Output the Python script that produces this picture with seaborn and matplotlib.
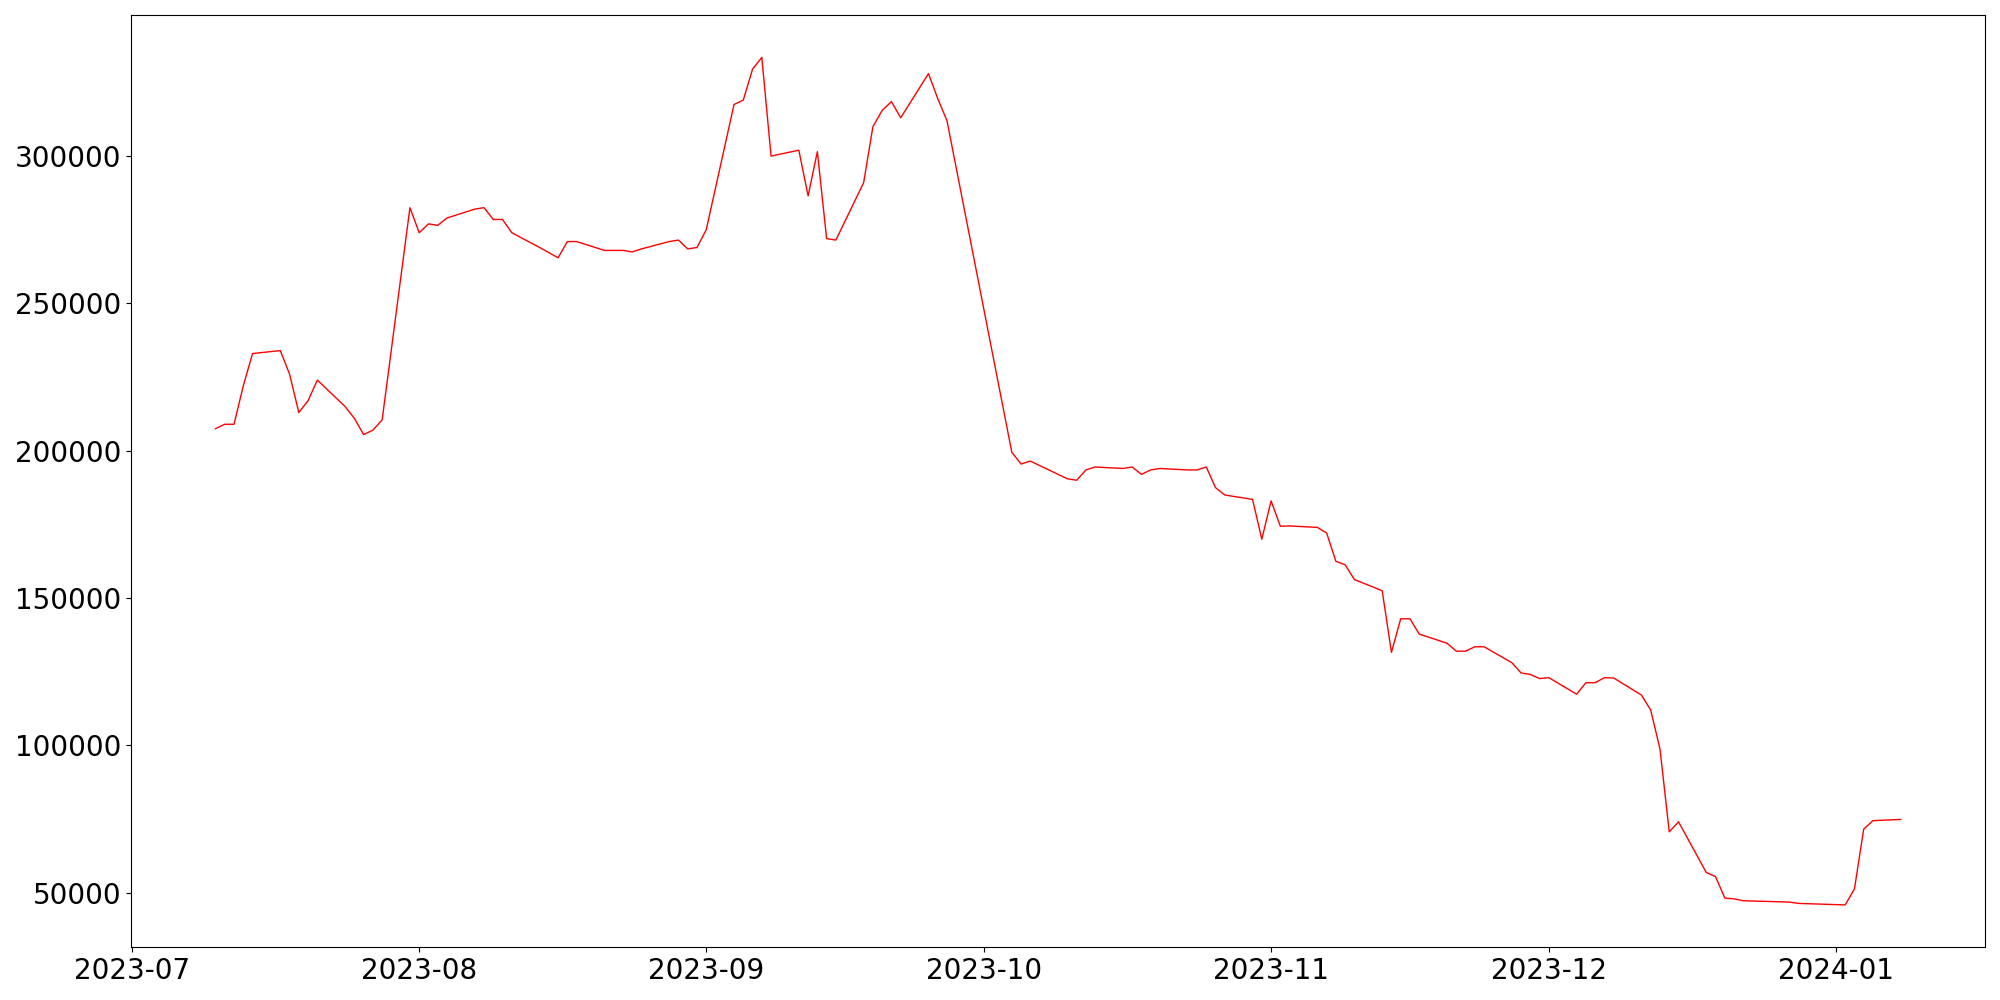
import pandas as pd
import seaborn as sns
import matplotlib.pyplot as plt

# trading days (KRX calendar) and closing prices
dates = [
    '2023-07-10', '2023-07-11', '2023-07-12', '2023-07-13', '2023-07-14',
    '2023-07-17', '2023-07-18', '2023-07-19', '2023-07-20', '2023-07-21',
    '2023-07-24', '2023-07-25', '2023-07-26', '2023-07-27', '2023-07-28',
    '2023-07-31', '2023-08-01', '2023-08-02', '2023-08-03', '2023-08-04',
    '2023-08-07', '2023-08-08', '2023-08-09', '2023-08-10', '2023-08-11',
    '2023-08-14', '2023-08-16', '2023-08-17', '2023-08-18',
    '2023-08-21', '2023-08-22', '2023-08-23', '2023-08-24', '2023-08-25',
    '2023-08-28', '2023-08-29', '2023-08-30', '2023-08-31', '2023-09-01',
    '2023-09-04', '2023-09-05', '2023-09-06', '2023-09-07', '2023-09-08',
    '2023-09-11', '2023-09-12', '2023-09-13', '2023-09-14', '2023-09-15',
    '2023-09-18', '2023-09-19', '2023-09-20', '2023-09-21', '2023-09-22',
    '2023-09-25', '2023-09-26', '2023-09-27',
    '2023-10-04', '2023-10-05', '2023-10-06',
    '2023-10-10', '2023-10-11', '2023-10-12', '2023-10-13',
    '2023-10-16', '2023-10-17', '2023-10-18', '2023-10-19', '2023-10-20',
    '2023-10-23', '2023-10-24', '2023-10-25', '2023-10-26', '2023-10-27',
    '2023-10-30', '2023-10-31', '2023-11-01', '2023-11-02', '2023-11-03',
    '2023-11-06', '2023-11-07', '2023-11-08', '2023-11-09', '2023-11-10',
    '2023-11-13', '2023-11-14', '2023-11-15', '2023-11-16', '2023-11-17',
    '2023-11-20', '2023-11-21', '2023-11-22', '2023-11-23', '2023-11-24',
    '2023-11-27', '2023-11-28', '2023-11-29', '2023-11-30', '2023-12-01',
    '2023-12-04', '2023-12-05', '2023-12-06', '2023-12-07', '2023-12-08',
    '2023-12-11', '2023-12-12', '2023-12-13', '2023-12-14', '2023-12-15',
    '2023-12-18', '2023-12-19', '2023-12-20', '2023-12-21', '2023-12-22',
    '2023-12-26', '2023-12-27', '2023-12-28',
    '2024-01-02', '2024-01-03', '2024-01-04', '2024-01-05', '2024-01-08',
]

prices = [
    207500, 209000, 209000, 222000, 233000,
    234000, 226000, 213000, 217000, 224000,
    215000, 211000, 205500, 207000, 210500,
    282500, 274000, 277000, 276500, 279000,
    282000, 282500, 278500, 278500, 274000,
    269000, 265500, 271000, 271000,
    268000, 268000, 268000, 267500, 268500,
    271000, 271500, 268500, 269000, 275000,
    317500, 319000, 329500, 333500, 300000,
    302000, 286500, 301500, 272000, 271500,
    291000, 310000, 315500, 318500, 313000,
    328000, 319500, 312000,
    199500, 195500, 196500,
    190500, 190000, 193500, 194500,
    194000, 194500, 192000, 193500, 194000,
    193500, 193500, 194500, 187500, 185000,
    183500, 170000, 183000, 174400, 174500,
    174000, 172100, 162500, 161300, 156300,
    152500, 131600, 143000, 143000, 137800,
    134700, 132000, 132000, 133500, 133500,
    128100, 124600, 124100, 122700, 123000,
    117400, 121300, 121300, 123000, 122900,
    117100, 112000, 98800, 70700, 74100,
    56900, 55500, 48200, 47950, 47300,
    46950, 46850, 46400,
    45900, 51300, 71600, 74500, 74900,
]

df = pd.DataFrame({'date': pd.to_datetime(dates), 'close': prices})

fig, ax = plt.subplots(figsize=(20, 10), dpi=100)
sns.lineplot(data=df, x='date', y='close', color='red', linewidth=1, ax=ax)
ax.set_xlabel('')
ax.set_ylabel('')
ax.tick_params(labelsize=20)

plt.tight_layout()
fig.savefig('out.png')
